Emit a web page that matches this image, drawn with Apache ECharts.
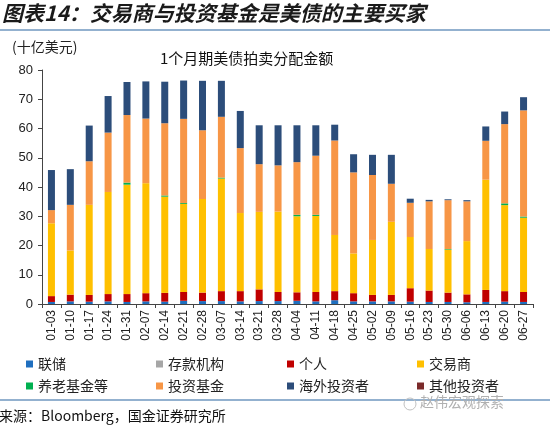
<!DOCTYPE html>
<html>
<head>
<meta charset="utf-8">
<script src="https://cdn.jsdelivr.net/npm/echarts@6/dist/echarts.min.js"></script>
<style>
html,body{margin:0;padding:0;background:#fff;}
#c{width:550px;height:427px;}
</style>
</head>
<body>
<div id="c"></div>
<script>
var categories = ['01-03','01-10','01-17','01-24','01-31','02-07','02-14','02-21','02-28','03-07','03-14','03-21','03-28','04-04','04-11','04-18','04-25','05-02','05-09','05-16','05-23','05-30','06-06','06-13','06-20','06-27'];
var fed        = [0.7,0.9,0.8,0.9,0.7,0.9,0.8,1.1,1.0,1.0,0.9,1.0,1.0,1.1,0.9,1.3,0.9,0.9,0.9,0.8,0.7,0.7,0.6,0.7,0.8,0.7];
var depository = [0,0,0,0,0,0,0,0,0,0,0,0,0,0,0,0,0,0,0,0,0,0,0,0,0,0];
var individual = [2.0,2.3,2.3,2.5,2.7,2.8,3.0,3.0,2.9,3.4,3.5,4.0,3.1,2.9,3.2,3.1,2.8,2.2,2.2,4.6,3.9,3.2,2.7,4.1,3.6,3.4];
var dealers    = [24.9,15.1,30.8,34.9,37.4,37.6,32.9,30.1,32.0,38.5,26.7,26.5,27.5,26.0,26.0,19.2,13.6,18.8,25.0,17.5,14.2,14.7,18.2,37.7,29.4,25.4];
var pension    = [0,0,0,0,0.7,0,0.4,0.3,0,0.3,0,0,0,0.5,0.4,0,0,0,0,0,0,0.2,0,0,0.6,0.4];
var funds      = [4.5,15.6,14.9,20.3,23.1,22.1,24.7,28.8,23.5,20.8,22.2,16.3,15.8,18.0,20.2,32.3,27.7,22.2,13.0,11.7,16.3,16.7,13.6,13.3,27.1,36.3];
var foreign    = [13.7,12.2,12.2,12.5,11.3,12.7,14.2,13.1,16.9,12.3,12.7,13.3,13.7,12.6,10.4,5.4,6.2,6.9,9.9,1.4,0.5,0.3,0.4,4.9,4.3,4.5];
var other      = [0,0,0,0,0,0,0,0,0,0,0,0,0,0,0,0,0,0,0,0,0,0,0,0,0,0];
var yTicks = [0,10,20,30,40,50,60,70,80];

var seriesNames = ['联储','存款机构','个人','交易商','养老基金等','投资基金','海外投资者','其他投资者'];
var seriesData  = [fed, depository, individual, dealers, pension, funds, foreign, other];
var colors = ['#1F6FBF','#A6A6A6','#C00000','#FFC000','#00B050','#F79646','#2C4D7A','#7B2A2A'];

var CJK = '"Noto Sans CJK SC", sans-serif';
var chart = echarts.init(document.getElementById('c'), null, {renderer:'canvas'});

var legendPos = [[26,357],[156,357],[287,357],[417,357],[26,379],[156,379],[287,379],[417,379]];
var legends = seriesNames.map(function(n,i){
  return {
    data:[n], left:legendPos[i][0], top:legendPos[i][1],
    itemWidth:7, itemHeight:7, icon:'rect', padding:0, itemGap:0,
    textStyle:{fontFamily:CJK, fontSize:14, color:'#222'}
  };
});

var option = {
  animation:false,
  color: colors,
  grid:{left:42, right:17, top:70, bottom:123, containLabel:false},
  legend: legends,
  xAxis:{
    type:'category', data:categories,
    axisLine:{lineStyle:{color:'#444', width:1}},
    axisTick:{show:true, alignWithLabel:false, length:4, lineStyle:{color:'#444'}},
    axisLabel:{rotate:90, margin:6, fontSize:12, color:'#222', fontFamily:'"Liberation Sans", Arial, sans-serif', interval:0}
  },
  yAxis:{
    type:'value', min:0, max:80, interval:10,
    axisLine:{show:true, lineStyle:{color:'#444'}},
    axisTick:{show:true, inside:false, length:4, lineStyle:{color:'#444'}},
    axisLabel:{margin:9, fontSize:13, color:'#222', fontFamily:'"Liberation Sans", Arial, sans-serif'},
    splitLine:{show:false}
  },
  series: seriesNames.map(function(n,i){
    return {name:n, type:'bar', stack:'total', data:seriesData[i], barWidth:7,
      itemStyle:{color:colors[i]}};
  }),
  graphic:[
    {type:'text', left:2, top:3, style:{text:'图表14：交易商与投资基金是美债的主要买家', font:'italic bold 21px '+CJK, fill:'#1a1a1a'}},
    {type:'line', shape:{x1:0,y1:30,x2:550,y2:30}, style:{stroke:'#6F97BF', lineWidth:1.5}},
    {type:'text', left:12, top:40, style:{text:'(十亿美元)', font:'14px '+CJK, fill:'#222'}},
    {type:'text', left:160, top:51, style:{text:'1个月期美债拍卖分配金额', font:'15px '+CJK, fill:'#111'}},
    {type:'line', shape:{x1:0,y1:400,x2:550,y2:400}, style:{stroke:'#6F97BF', lineWidth:1.5}},
    {type:'text', left:-1, top:409, style:{text:'来源：Bloomberg，国金证券研究所', font:'14px '+CJK, fill:'#111'}},
    {type:'circle', shape:{cx:410, cy:404, r:6}, style:{fill:'none', stroke:'#C0C0C0', lineWidth:1}},
    {type:'text', left:420, top:395, style:{text:'赵伟宏观探索', font:'14px '+CJK, fill:'#B0B0B0'}}
  ]
};
chart.setOption(option);
</script>
</body>
</html>
